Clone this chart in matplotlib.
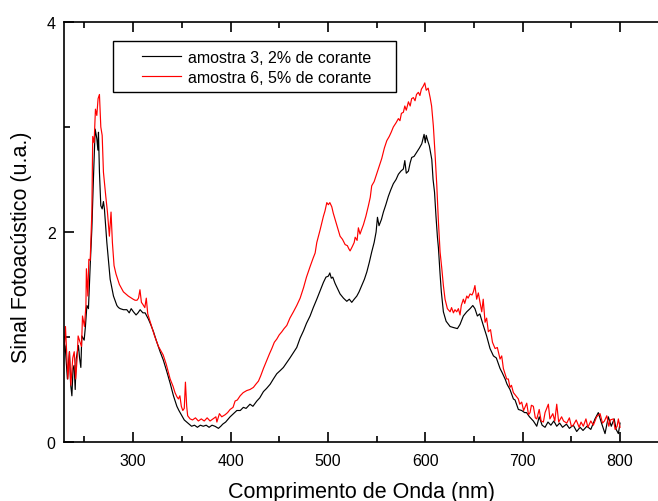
import matplotlib
matplotlib.use("Agg")
import matplotlib.pyplot as plt
from matplotlib.ticker import MultipleLocator
from matplotlib.patches import Rectangle

plt.rcParams['font.family'] = ['Liberation Sans', 'DejaVu Sans']

# amostra 3, 2% de corante (black)
wl_a3 = [229.0, 230.2, 232.5, 234.6, 235.8, 237.1, 238.3, 239.4, 240.5, 241.5, 243.8, 245.0, 246.3, 247.3,
         249.7, 251.0, 252.5, 254.1, 255.9, 257.6, 259.2, 261.0, 262.7, 263.8, 264.4, 265.4, 266.8, 268.2,
         269.5, 270.5, 273.0, 276.4, 279.8, 283.3, 285.0, 286.7, 290.0, 293.5, 296.0, 298.0, 300.3, 303.0,
         305.0, 307.2, 310.0, 312.3, 315.7, 318.0, 320.9, 324.0, 327.7, 331.0, 334.6, 338.0, 341.4, 344.9,
         347.0, 350.0, 352.5, 355.0, 357.5, 360.0, 363, 366, 369, 372, 375, 378, 381, 384, 387.6, 390, 392,
         395, 399.6, 403, 406.5, 410, 413.2, 416, 420.0, 423, 427.0, 430, 433.8, 437, 440.7, 444, 447.5, 451,
         454.3, 458, 461.0, 464.5, 468.0, 471.5, 475, 478, 481.7, 485, 488.6, 492, 495.4, 498, 500.5, 502,
         503.5, 505, 507.4, 510, 512.5, 516, 519.4, 522, 524.5, 527, 529.7, 532, 534.8, 537.5, 540, 542.5,
         545, 547.5, 549.5, 550.9, 552.5, 555, 557, 559.5, 562.1, 564.5, 567.2, 570, 572.4, 575, 577.5, 579,
         580.5, 582.7, 584.5, 586.1, 588.5, 591.3, 594, 596.4, 597.5, 598.8, 600, 601, 602.5, 604.2, 606.7,
         608, 609.5, 611, 612.5, 613.5, 615.2, 616.5, 618.6, 621.4, 625.5, 629, 633, 635.7, 639.1, 642.6,
         646, 648.8, 651, 653.5, 656, 659.6, 663, 666.5, 670, 673, 676.8, 679, 682, 684, 687, 690.5, 692.2,
         695.6, 699, 702, 704, 707, 711, 714.5, 717, 720, 723, 726, 729, 732, 735, 738, 741, 745, 748, 752,
         755.5, 759, 762, 766, 770, 774.3, 777.7, 781, 784.6, 788, 791, 794, 796, 798.3, 800]
sig_a3 = [0.95, 0.91, 0.60, 0.86, 0.55, 0.44, 0.70, 0.73, 0.50, 0.79, 0.92, 0.80, 0.71, 1.01,
          0.97, 1.10, 1.30, 1.27, 1.68, 2.03, 2.50, 2.98, 2.89, 2.78, 2.95, 2.57, 2.25, 2.22,
          2.29, 2.22, 1.90, 1.55, 1.39, 1.30, 1.28, 1.27, 1.26, 1.26, 1.23, 1.27, 1.24, 1.21,
          1.23, 1.26, 1.23, 1.23, 1.17, 1.12, 1.05, 0.96, 0.86, 0.78, 0.67, 0.56, 0.44, 0.34,
          0.30, 0.25, 0.21, 0.19, 0.17, 0.15, 0.16, 0.14, 0.16, 0.15, 0.16, 0.14, 0.16, 0.15, 0.13, 0.15, 0.17,
          0.19, 0.24, 0.27, 0.30, 0.30, 0.33, 0.32, 0.36, 0.34, 0.39, 0.42, 0.48, 0.51, 0.55, 0.60, 0.65, 0.68,
          0.71, 0.76, 0.80, 0.85, 0.90, 0.99, 1.06, 1.13, 1.20, 1.28, 1.36, 1.44, 1.52, 1.57, 1.58, 1.61,
          1.56, 1.57, 1.51, 1.46, 1.41, 1.37, 1.34, 1.36, 1.33, 1.36, 1.39, 1.43, 1.49, 1.55, 1.62, 1.71,
          1.81, 1.90, 2.00, 2.14, 2.06, 2.12, 2.19, 2.26, 2.34, 2.40, 2.46, 2.50, 2.55, 2.58, 2.60, 2.68,
          2.56, 2.58, 2.66, 2.71, 2.72, 2.76, 2.80, 2.84, 2.88, 2.93, 2.85, 2.92, 2.87, 2.82, 2.69,
          2.50, 2.38, 2.15, 1.95, 1.85, 1.60, 1.43, 1.24, 1.15, 1.10, 1.09, 1.08, 1.12, 1.20, 1.24,
          1.27, 1.30, 1.27, 1.20, 1.22, 1.11, 1.01, 0.89, 0.82, 0.80, 0.70, 0.66, 0.60, 0.55, 0.50, 0.41, 0.40,
          0.31, 0.30, 0.28, 0.28, 0.24, 0.20, 0.15, 0.24, 0.16, 0.14, 0.19, 0.16, 0.20, 0.15, 0.18, 0.14, 0.17, 0.13, 0.16,
          0.10, 0.14, 0.11, 0.15, 0.12, 0.22, 0.28, 0.18, 0.08, 0.24, 0.15, 0.22, 0.12, 0.08, 0.18]

# amostra 6, 5% de corante (red)
wl_a6 = [229.1, 230.5, 232.0, 233.0, 234.6, 236.0, 238.0, 239.5, 241.0, 242.5, 243.5, 245.5, 247.0, 248.0,
         250.0, 251.5, 252.0, 253.5, 254.5, 255.9, 257.6, 258.5, 259.9, 261.3, 262.7, 264.0, 265.4, 266.8,
         268.2, 269.5, 271.9, 273.6, 275.6, 277.3, 278.7, 280.4, 282.4, 285.9, 290, 295, 300, 302, 304,
         305.5, 307.0, 308.5, 310, 312, 313.5, 315, 318, 322, 326, 330.8, 334, 338, 341, 343, 345, 346.5,
         348, 349.5, 351, 352.5, 353.7, 355.0, 356, 358.5, 361, 364, 367, 370, 373, 376, 379, 382, 385, 386,
         388.6, 391, 394.5, 397, 399.6, 402.6, 404.7, 407, 409.9, 413, 416.7, 420, 423.5, 426, 428.7, 431,
         433.8, 437.3, 440, 442.4, 445, 447.5, 450, 452.7, 455, 457.8, 461, 464.6, 468, 471.5, 475, 478,
         481.7, 484.8, 486.9, 488.6, 492, 495.4, 497, 498.9, 500.5, 502, 504, 505.5, 507.4, 510, 512.5, 515,
         517.7, 520, 521.5, 522.8, 525, 527, 528, 530, 531.3, 533, 534.5, 536.5, 539, 541.6, 543.5, 545,
         547.5, 550, 552.5, 555.3, 558, 560.5, 563, 565, 567.2, 570, 572.4, 574, 575.5, 577.5, 579, 580.5,
         582.7, 584.5, 586, 587.8, 589.5, 591, 592.9, 594.5, 596, 598, 599.5, 601, 603, 605, 606.5, 608.3,
         610, 611.8, 613.5, 615.2, 617, 618.6, 620.3, 622.7, 625.5, 627, 628.9, 630.5, 632.3, 634, 635.7,
         637, 639.1, 640.5, 642.6, 644, 646, 648, 649.4, 651, 652.8, 654.5, 656, 658, 659.5, 661.4, 663,
         664.8, 667, 669, 671.7, 674, 676.8, 678.5, 680.2, 683.6, 685.3, 687, 688.5, 690.5, 693, 695.6, 697,
         699, 701, 704.2, 706, 707.6, 709, 711, 713, 714.5, 717, 719, 721.3, 723, 726.4, 728, 731, 733, 735,
         737, 740, 742, 745.3, 748, 750, 752, 755, 758, 760, 762.3, 765, 767, 770, 772.6, 776, 779.5, 782,
         784, 786.4, 788.5, 790, 793.2, 795, 797, 798.3, 800]
sig_a6 = [0.86, 1.10, 0.80, 0.60, 0.86, 0.54, 0.80, 0.86, 0.60, 0.80, 1.01, 0.95, 0.91, 1.20,
          1.10, 1.30, 1.65, 1.39, 1.74, 1.73, 2.19, 2.91, 2.85, 3.17, 3.11, 3.27, 3.31, 3.00,
          2.92, 2.57, 2.34, 2.19, 1.96, 2.19, 1.90, 1.68, 1.60, 1.50, 1.43, 1.39, 1.36, 1.35, 1.35,
          1.37, 1.45, 1.33, 1.31, 1.28, 1.37, 1.22, 1.13, 1.01, 0.91, 0.83, 0.74, 0.60, 0.53, 0.47, 0.43, 0.41,
          0.44, 0.34, 0.30, 0.32, 0.57, 0.34, 0.25, 0.22, 0.21, 0.23, 0.20, 0.22, 0.20, 0.23, 0.20, 0.22, 0.24, 0.19,
          0.27, 0.24, 0.26, 0.28, 0.31, 0.33, 0.39, 0.40, 0.44, 0.47, 0.49, 0.50, 0.52, 0.55, 0.58, 0.63,
          0.70, 0.78, 0.84, 0.89, 0.95, 0.98, 1.02, 1.05, 1.08, 1.11, 1.18, 1.24, 1.30, 1.37, 1.47, 1.57,
          1.67, 1.75, 1.80, 1.90, 2.02, 2.15, 2.20, 2.28, 2.26, 2.28, 2.24, 2.18, 2.12, 2.04, 1.96, 1.93,
          1.88, 1.87, 1.84, 1.82, 1.86, 1.90, 1.95, 1.92, 2.04, 1.98, 2.02, 2.07, 2.15, 2.25, 2.33, 2.44,
          2.48, 2.55, 2.62, 2.70, 2.80, 2.87, 2.91, 2.95, 3.00, 3.04, 3.08, 3.06, 3.13, 3.14, 3.20, 3.16,
          3.24, 3.20, 3.27, 3.28, 3.25, 3.31, 3.33, 3.30, 3.36, 3.39, 3.42, 3.35, 3.37, 3.28, 3.20, 3.01,
          2.75, 2.45, 2.10, 1.81, 1.65, 1.49, 1.36, 1.27, 1.24, 1.28, 1.23, 1.26, 1.24, 1.27, 1.21,
          1.30, 1.36, 1.32, 1.39, 1.37, 1.41, 1.40, 1.43, 1.49, 1.36, 1.42, 1.34, 1.24, 1.36, 1.14, 1.18,
          1.05, 1.07, 0.95, 0.89, 0.90, 0.79, 0.82, 0.70, 0.60, 0.60, 0.52, 0.54, 0.47, 0.44, 0.41, 0.36,
          0.38, 0.30, 0.37, 0.26, 0.28, 0.35, 0.34, 0.23, 0.22, 0.31, 0.20, 0.19, 0.28, 0.36, 0.22, 0.27, 0.20, 0.36,
          0.19, 0.24, 0.20, 0.18, 0.23, 0.15, 0.16, 0.21, 0.14, 0.19, 0.15, 0.22, 0.14, 0.20, 0.16, 0.24, 0.27, 0.18,
          0.20, 0.25, 0.15, 0.21, 0.22, 0.12, 0.15, 0.22, 0.14]

labels = ["amostra 3, 2% de corante", "amostra 6, 5% de corante"]

fig = plt.figure(figsize=(6.58, 5.02), dpi=100)
W, H = 658, 502
ax = fig.add_axes([64 / W, (H - 443) / H, (W - 64) / W, (443 - 23) / H])

ax.plot(wl_a3, sig_a3, color='black', lw=0.85, label=labels[0])
ax.plot(wl_a6, sig_a6, color='red', lw=0.85, label=labels[1])

ax.set_xlim(229, 839)
ax.set_ylim(0, 4)
ax.spines['right'].set_visible(False)
for s in ['left', 'bottom', 'top']:
    ax.spines[s].set_linewidth(1.2)

ax.xaxis.set_major_locator(MultipleLocator(100))
ax.xaxis.set_minor_locator(MultipleLocator(50))
ax.yaxis.set_major_locator(MultipleLocator(2))
ax.yaxis.set_minor_locator(MultipleLocator(1))
ax.tick_params(which='both', direction='in', top=True, right=False, width=1.2, labelsize=11.5)
ax.tick_params(which='major', length=7)
ax.tick_params(which='minor', length=4.5)
ax.tick_params(axis='x', pad=8)
ax.tick_params(axis='y', pad=6)

ax.set_xlabel("Comprimento de Onda (nm)", fontsize=15.5, labelpad=9)
ax.set_ylabel("Sinal Fotoacústico (u.a.)", fontsize=15.5)
ax.yaxis.set_label_coords(-0.054, (443 - 247) / 420)

# legend frame (fixed box) and legend content
ax.add_patch(Rectangle((113 / W, (H - 93) / H), (396 - 113) / W, (93 - 42) / H,
                       transform=fig.transFigure, facecolor='white', edgecolor='black',
                       lw=1.0, zorder=4, clip_on=False))
leg = ax.legend(loc='upper left', bbox_to_anchor=(142 / W, (H - 51) / H),
                bbox_transform=fig.transFigure,
                borderaxespad=0, borderpad=0, frameon=False, fontsize=11.5,
                handlelength=2.45, handletextpad=0.4, labelspacing=0.3)
leg.set_zorder(5)

fig.savefig("out.png", dpi=100)
